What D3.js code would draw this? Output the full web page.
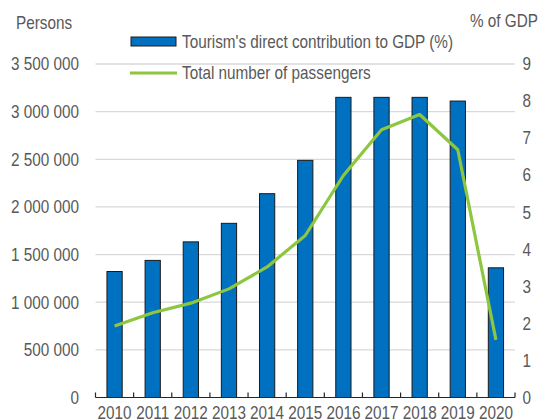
<!DOCTYPE html>
<html><head><meta charset="utf-8">
<script src="https://cdn.jsdelivr.net/npm/d3@7"></script>
<style>
body{margin:0;background:#fff;}
svg text{font-family:"Liberation Sans Narrow","Arial Narrow","Liberation Sans",sans-serif;fill:#595959;}
</style></head>
<body>
<svg id="chart" width="540" height="420"></svg>
<script>
const years = ["2010","2011","2012","2013","2014","2015","2016","2017","2018","2019","2020"];
const gdpShare = [3.4, 3.7, 4.2, 4.7, 5.5, 6.4, 8.1, 8.1, 8.1, 8.0, 3.5];
const passengers = [750000, 890000, 990000, 1140000, 1370000, 1700000, 2330000, 2810000, 2970000, 2600000, 605000];
const leftTicks = [0, 500000, 1000000, 1500000, 2000000, 2500000, 3000000, 3500000];
const rightTicks = [0,1,2,3,4,5,6,7,8,9];
const barLabel = "Tourism's direct contribution to GDP (%)";
const lineLabel = "Total number of passengers";

const svg = d3.select("#chart");
const x0 = 95.5, x1 = 515, yb = 397.5, yt = 64;
const SX = 0.85;
const x = d3.scaleBand().domain(years).range([x0, x1]).paddingInner(0.6).paddingOuter(0.3);
const yL = d3.scaleLinear().domain([0, 3500000]).range([yb, yt]);
const yR = d3.scaleLinear().domain([0, 9]).range([yb, yt]);
const fmt = v => d3.format(",")(v).replace(/,/g, " ");
const tr = (px, py) => `translate(${px},${py}) scale(${SX},1)`;

// gridlines
svg.append("g").selectAll("line").data(leftTicks.slice(1)).join("line")
  .attr("x1", x0).attr("x2", x1).attr("y1", d => yL(d)).attr("y2", d => yL(d))
  .attr("stroke", "#d9d9d9").attr("stroke-width", 1.3);

// left labels
svg.append("g").selectAll("text").data(leftTicks).join("text")
  .attr("transform", d => tr(79, yL(d))).attr("dy", "0.35em")
  .attr("text-anchor", "end").attr("font-size", 18).text(fmt);

// right labels
svg.append("g").selectAll("text").data(rightTicks).join("text")
  .attr("transform", d => tr(522.5, yR(d))).attr("dy", "0.35em")
  .attr("text-anchor", "start").attr("font-size", 18).text(d => d);

// bars
svg.append("g").selectAll("rect").data(years).join("rect")
  .attr("x", d => x(d)).attr("width", x.bandwidth())
  .attr("y", (d, i) => yR(gdpShare[i])).attr("height", (d, i) => yb - yR(gdpShare[i]))
  .attr("fill", "#0070c0").attr("stroke", "#1a1a1a").attr("stroke-width", 1);

// x axis
const step = x.step();
svg.append("line").attr("x1", x0).attr("x2", x1).attr("y1", yb).attr("y2", yb)
  .attr("stroke", "#262626").attr("stroke-width", 1.2);
svg.append("g").selectAll("line").data(d3.range(years.length + 1)).join("line")
  .attr("x1", i => x0 + i * step).attr("x2", i => x0 + i * step)
  .attr("y1", yb).attr("y2", yb - 5).attr("stroke", "#262626").attr("stroke-width", 1.2);
svg.append("g").selectAll("text").data(years).join("text")
  .attr("transform", d => tr(x(d) + x.bandwidth() / 2, 412.5)).attr("dy", "0.35em")
  .attr("text-anchor", "middle").attr("font-size", 18).text(d => d);

// line
const line = d3.line().x((d, i) => x(years[i]) + x.bandwidth() / 2).y(d => yL(d));
svg.append("path").datum(passengers).attr("d", line)
  .attr("fill", "none").attr("stroke", "#8dc63f").attr("stroke-width", 3.2)
  .attr("stroke-linejoin", "round");

// axis titles
svg.append("text").attr("transform", tr(16, 23)).attr("dy", "0.35em").attr("font-size", 18).text("Persons");
svg.append("text").attr("transform", tr(538, 21)).attr("dy", "0.35em").attr("text-anchor", "end").attr("font-size", 18).text("% of GDP");

// legend
svg.append("rect").attr("x", 131).attr("y", 37).attr("width", 45).attr("height", 9)
  .attr("fill", "#0070c0").attr("stroke", "#1a1a1a").attr("stroke-width", 1);
svg.append("text").attr("transform", tr(182, 41.5)).attr("dy", "0.35em").attr("font-size", 18).text(barLabel);
svg.append("line").attr("x1", 130).attr("x2", 177).attr("y1", 73).attr("y2", 73)
  .attr("stroke", "#8dc63f").attr("stroke-width", 3.2);
svg.append("text").attr("transform", tr(182, 73)).attr("dy", "0.35em").attr("font-size", 18).text(lineLabel);
</script>
</body></html>
